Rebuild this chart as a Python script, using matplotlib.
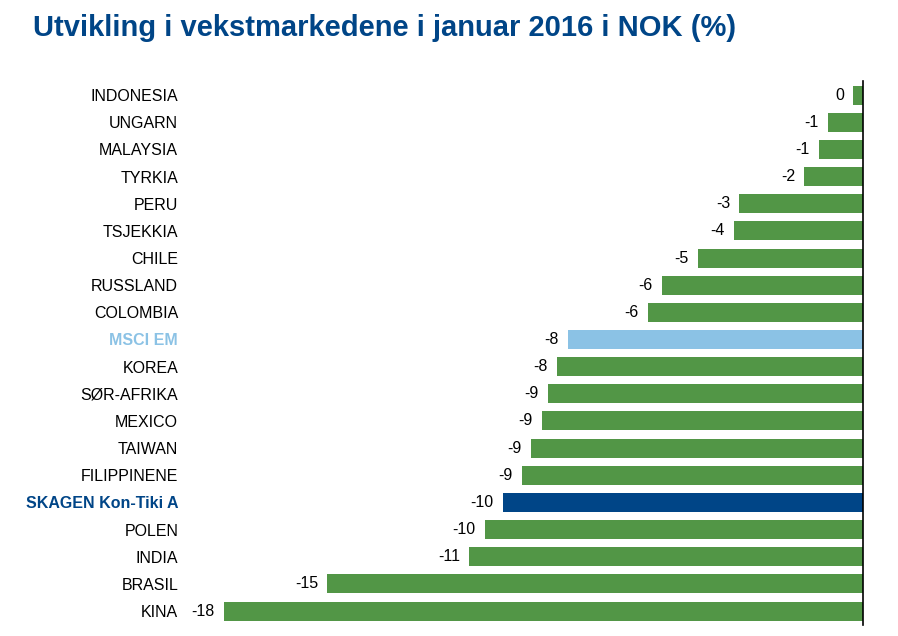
import matplotlib
matplotlib.use("Agg")
import matplotlib.pyplot as plt
from matplotlib import font_manager

# ---- data ----
categories = [
    "INDONESIA", "UNGARN", "MALAYSIA", "TYRKIA", "PERU", "TSJEKKIA", "CHILE",
    "RUSSLAND", "COLOMBIA", "MSCI EM", "KOREA", "SØR-AFRIKA", "MEXICO",
    "TAIWAN", "FILIPPINENE", "SKAGEN Kon-Tiki A", "POLEN", "INDIA", "BRASIL", "KINA",
]
values = [
    -0.28, -0.97, -1.22, -1.63, -3.42, -3.56, -4.55,
    -5.55, -5.93, -8.14, -8.44, -8.69, -8.85,
    -9.15, -9.40, -9.93, -10.42, -10.86, -14.77, -17.61,
]
title = "Utvikling i vekstmarkedene i januar 2016 i NOK (%)"

GREEN = "#529646"
LIGHT_BLUE = "#8BC2E5"
DARK_BLUE = "#004587"
highlight = {"MSCI EM": LIGHT_BLUE, "SKAGEN Kon-Tiki A": DARK_BLUE}

names = {f.name for f in font_manager.fontManager.ttflist}
base_font = "Liberation Sans" if "Liberation Sans" in names else "DejaVu Sans"
title_font = "Liberation Sans Narrow" if "Liberation Sans Narrow" in names else base_font
plt.rcParams["font.family"] = [base_font, "DejaVu Sans"]

fig = plt.figure(figsize=(8.98, 6.36), dpi=100)
ax = fig.add_axes([0.217, 0.0178, 0.9613 - 0.217, 0.8719 - 0.0178])

y = list(range(len(categories)))
colors = [highlight.get(c, GREEN) for c in categories]
ax.barh(y, values, height=0.70, color=colors, zorder=2)

for yi, v in zip(y, values):
    ax.text(v - 0.25, yi, f"{int(round(v))}", ha="right", va="center",
            fontsize=11.5, color="black")

ax.set_xlim(-18.41, 0)
ax.set_ylim(len(categories) - 0.5, -0.5)
ax.set_yticks(y)
ax.set_yticklabels(categories, fontsize=11.5)
ax.tick_params(axis="y", length=0, pad=12)
ax.set_xticks([])
for lbl in ax.get_yticklabels():
    c = lbl.get_text()
    if c in highlight:
        lbl.set_color(highlight[c])
        lbl.set_fontweight("bold")

for side in ["left", "top", "bottom"]:
    ax.spines[side].set_visible(False)
ax.spines["right"].set_linewidth(1.2)
ax.spines["right"].set_color("black")

fig.text(33 / 898, 1 - 36 / 636, title, fontsize=21, fontweight="bold",
         color=DARK_BLUE, family=[title_font, "DejaVu Sans"], ha="left", va="baseline")

fig.savefig("out.png", dpi=100)
